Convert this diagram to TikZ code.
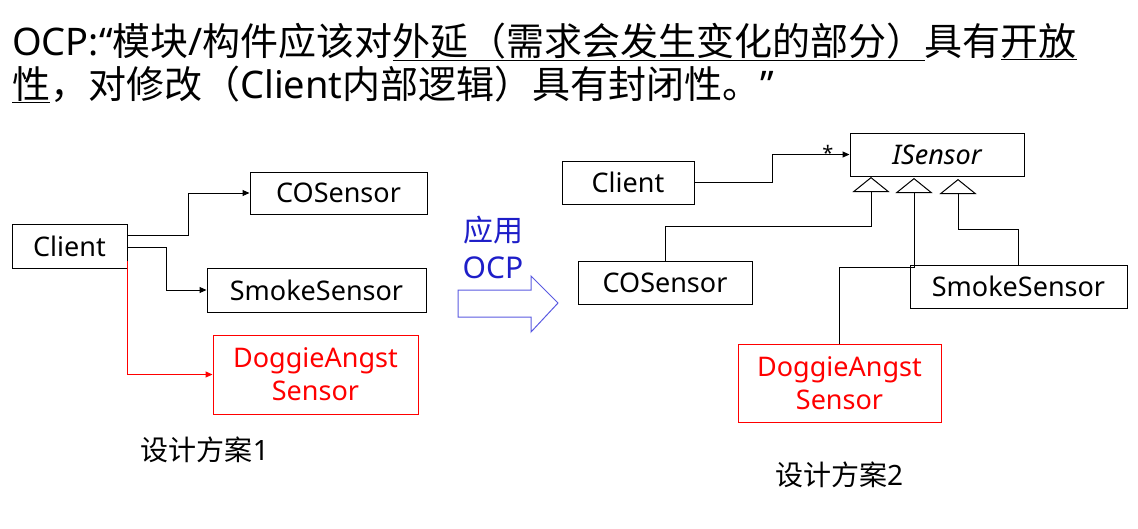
\documentclass[tikz,border=0pt]{standalone}
\usepackage{fontspec}
\setmainfont{Noto Sans}
\newfontfamily\cjk{Noto Sans CJK SC}
\usetikzlibrary{arrows.meta,calc}
\definecolor{ocpblue}{RGB}{30,30,200}
\definecolor{arrowblue}{RGB}{90,90,225}

\begin{document}
\begin{tikzpicture}[x=1pt, y=-1pt,
	every node/.style = {inner sep=0pt, align=center},
	box/.style = {draw, line width=1pt, font=\fontsize{27}{33}\selectfont},
	redbox/.style = {box, draw=red, text=red},
	link/.style = {line width=1pt, -{Triangle[length=7pt,width=6pt]}},
	gen/.style = {line width=1pt, -{Triangle[open,length=15pt,width=37pt]}},
	title/.style = {anchor=base west, font=\fontsize{38}{44}\selectfont},
	caption/.style = {anchor=base, font=\fontsize{28}{33}\selectfont},
	ocptext/.style = {anchor=base, text=ocpblue, font=\fontsize{30}{35}\selectfont}]

	\useasboundingbox (0,0) rectangle (1138,528);

	% heading
	\node[title] (ttl1) at (12,55) {OCP:“{\cjk 模块}/{\cjk 构件应该对}\underline{{\cjk 外延（需求会发生变化的部分）}}{\cjk 具有}\underline{{\cjk 开放}}};
	\node[title] (ttl2) at (12,98) {\underline{{\cjk 性}}{\cjk ，对修改（}Client{\cjk 内部逻辑）具有封闭性。}”};

	% plan 1
	\node[box, minimum width=115pt, minimum height=44pt] (cli1) at (69.5,246) {Client};
	\node[box, minimum width=177pt, minimum height=42pt] (cos1) at (338.5,193) {COSensor};
	\node[box, minimum width=219pt, minimum height=44pt] (smk1) at (316.5,290) {SmokeSensor};
	\node[redbox, minimum width=205pt, minimum height=79pt] (dog1) at (315.5,374.5) {DoggieAngst\\Sensor};
	\node[caption] (plan1) at (205,460) {{\cjk 设计方案}1};

	\draw[link] ($(cli1.east)+(0,-11)$) -- ++(61,0) |- (cos1.west);
	\draw[link] ($(cli1.east)+(0,1)$) -- ++(39,0) |- (smk1.west);
	\draw[link, red] ($(cli1.south east)+(0,-8)$) |- (dog1.west);

	% apply OCP
	\node[ocptext] (apply) at (493,241) {{\cjk 应用}};
	\node[ocptext] (ocp) at (493,278) {OCP};
	\draw[arrowblue, line width=1pt] (458,290) -- (531,290) -- (531,276) -- (558,303)
		-- (531,332) -- (531,317) -- (458,317) -- cycle;

	% plan 2
	\node[box, minimum width=132pt, minimum height=43pt] (cli2) at (628,182.5) {Client};
	\node[box, minimum width=174pt, minimum height=43pt, font=\fontsize{27}{33}\selectfont\itshape] (isen) at (937,154.5) {ISensor};
	\node[box, minimum width=174pt, minimum height=43pt] (co2) at (665,282.5) {COSensor};
	\node[box, minimum width=217pt, minimum height=43pt] (smk2) at (1018.5,286.5) {SmokeSensor};
	\node[redbox, minimum width=203pt, minimum height=78pt] (dog2) at (839.5,383) {DoggieAngst\\Sensor};
	\node[caption] (plan2) at (839,485) {{\cjk 设计方案}2};

	\coordinate (g1) at (871,177);
	\coordinate (g2) at (914,178);
	\coordinate (g3) at (958,179);

	\draw[link] (cli2.east) -- ++(78,0) |- node[pos=0.86, anchor=base, yshift=-6pt, font=\fontsize{20}{24}\selectfont] {*} (isen.west);
	\draw[gen] (co2.north) -- ++(0,-34) -| (g1);
	\draw[gen] (dog2.north) -- ++(0,-76) -| (g2);
	\draw[gen] (smk2.north) -- ++(0,-35) -| (g3);
\end{tikzpicture}
\end{document}
